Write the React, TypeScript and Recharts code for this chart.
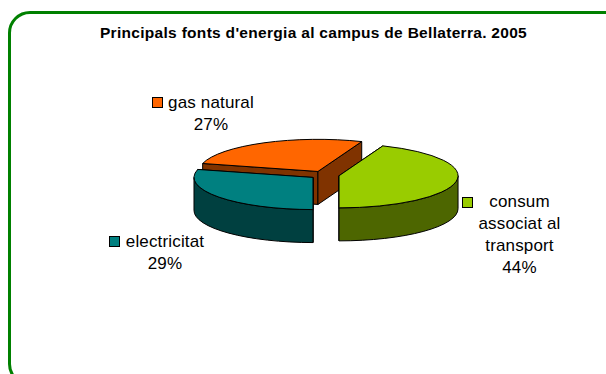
import { Pie, PieChart } from "recharts";

const CATEGORIES = ["gas natural", "consum associat al transport", "electricitat"];
const SHARES = [27, 44, 29];
const TITLE = "Principals fonts d'energia al campus de Bellaterra. 2005";

const TOP_COLORS = ["#ff6600", "#99cc00", "#008080"];
const SIDE_COLORS = ["#803300", "#4d6600", "#004040"];

const DATA = CATEGORIES.map((name, i) => ({ name, value: SHARES[i] }));

const TILT = 0.27;
const DEPTH = 33;
const EXPLODE = 14.7;
const FONT = "'Liberation Sans', Arial, sans-serif";

// label blocks: key square position + text lines (x is the centre of each line)
const LABELS = [
	{ key: [152.5, 97.5], lines: [["gas natural", 211, 108], ["27%", 211, 130]] },
	{
		key: [462.5, 197.5],
		lines: [
			["consum", 519.5, 207],
			["associat al", 519.5, 229],
			["transport", 519.5, 251],
			["44%", 519.5, 273],
		],
	},
	{ key: [109.5, 236.5], lines: [["electricitat", 165, 247], ["29%", 165, 269]] },
];

function rad(a: number) {
	return (a * Math.PI) / 180;
}

function Slice3D(props: any) {
	const { cx, cy, outerRadius: r, startAngle, endAngle, index } = props;
	const mid = rad((startAngle + endAngle) / 2);
	const ox = cx + EXPLODE * Math.cos(mid);
	const oy = cy - EXPLODE * TILT * Math.sin(mid);
	const ry = r * TILT;
	const pt = (a: number, d = 0) =>
		`${ox + r * Math.cos(rad(a))} ${oy - ry * Math.sin(rad(a)) + d}`;
	const large = startAngle - endAngle > 180 ? 1 : 0;
	const top = `M${ox} ${oy} L${pt(startAngle)} A${r} ${ry} 0 ${large} 1 ${pt(endAngle)} Z`;
	const face = (a: number) =>
		`M${ox} ${oy} L${pt(a)} L${pt(a, DEPTH)} L${ox} ${oy + DEPTH} Z`;

	// outer wall only shows on the front half of the ellipse
	const from = Math.min(startAngle, 0);
	const to = Math.max(endAngle, -180);
	const rim =
		from > to
			? `M${pt(from)} A${r} ${ry} 0 0 1 ${pt(to)} L${pt(to, DEPTH)} A${r} ${ry} 0 0 0 ${pt(from, DEPTH)} Z`
			: null;

	const side = SIDE_COLORS[index];
	return (
		<g stroke="#000" strokeWidth={1} strokeLinejoin="round">
			<path d={face(startAngle)} fill={side} />
			<path d={face(endAngle)} fill={side} />
			{rim && <path d={rim} fill={side} />}
			<path d={top} fill={TOP_COLORS[index]} />
		</g>
	);
}

function SliceLabel(props: any) {
	const block = LABELS[props.index];
	return (
		<g>
			<rect
				x={block.key[0]}
				y={block.key[1]}
				width={10}
				height={10}
				fill={TOP_COLORS[props.index]}
				stroke="#000"
				strokeWidth={1}
			/>
			{block.lines.map(([text, x, y]: any) => (
				<text
					key={text}
					x={x}
					y={y}
					textAnchor="middle"
					fontFamily={FONT}
					fontSize={17}
					letterSpacing={0.15}
					fill="#000"
				>
					{text}
				</text>
			))}
		</g>
	);
}

export default function App() {
	return (
		<div
			style={{
				position: "fixed",
				left: 0,
				top: 0,
				width: 606,
				height: 374,
				overflow: "hidden",
				background: "#fff",
			}}
		>
			<div
				style={{
					position: "absolute",
					left: 8,
					top: 11,
					width: 700,
					height: 375,
					boxSizing: "border-box",
					border: "3px solid #008000",
					borderRadius: 22,
				}}
			/>
			<div
				style={{
					position: "absolute",
					left: 0,
					top: 24,
					width: 627,
					textAlign: "center",
					fontFamily: FONT,
					fontWeight: "bold",
					fontSize: 15.5,
					letterSpacing: 0.3,
					color: "#000",
					whiteSpace: "nowrap",
				}}
			>
				{TITLE}
			</div>
			<div style={{ position: "absolute", left: 0, top: 0 }}>
				<PieChart
					width={606}
					height={374}
					margin={{ top: 0, right: 0, bottom: 0, left: 0 }}
				>
					<Pie
						data={DATA}
						dataKey="value"
						nameKey="name"
						cx={324.6}
						cy={175}
						innerRadius={0}
						outerRadius={119}
						startAngle={165.6}
						endAngle={-194.4}
						stroke="none"
						shape={Slice3D}
						label={SliceLabel}
						labelLine={false}
						isAnimationActive={false}
					/>
				</PieChart>
			</div>
		</div>
	);
}
